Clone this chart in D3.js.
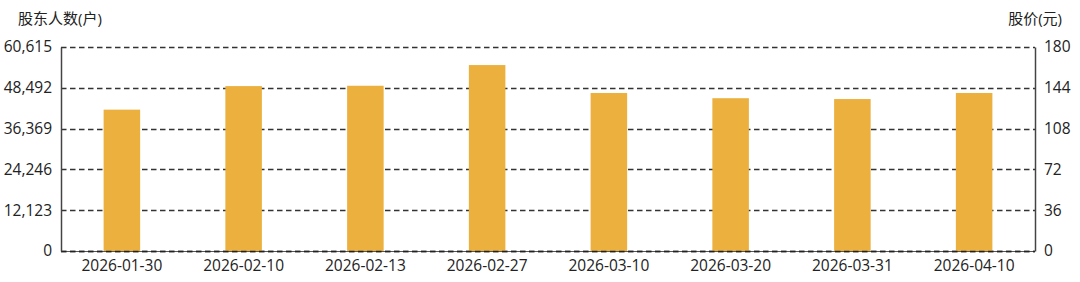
<!DOCTYPE html>
<html>
<head>
<meta charset="utf-8">
<script src="https://cdn.jsdelivr.net/npm/d3@7"></script>
<style>
  body { margin: 0; background: #fff; overflow: hidden; }
  svg { display: block; }
  svg text { font-family: "Open Sans", "Noto Sans CJK SC", sans-serif; font-size: 15.5px; fill: #222; }
</style>
</head>
<body>
<svg width="1080" height="282"></svg>
<script>
const dates = ['2026-01-30', '2026-02-10', '2026-02-13', '2026-02-27', '2026-03-10', '2026-03-20', '2026-03-31', '2026-04-10'];
const holders = [42000, 49000, 49100, 55250, 46950, 45400, 45150, 46950];
const leftTicks = [0, 12123, 24246, 36369, 48492, 60615];
const rightTicks = [0, 36, 72, 108, 144, 180];

const svg = d3.select('svg');
const margin = { top: 47, right: 45, bottom: 31, left: 61 };
const width = +svg.attr('width');
const height = +svg.attr('height');
const innerWidth = width - margin.left - margin.right;
const innerHeight = height - margin.top - margin.bottom;

const xScale = d3.scaleBand().domain(dates).range([0, innerWidth]).padding(0);
const yScale = d3.scaleLinear().domain([0, 60615]).range([innerHeight, 0]);
const y2Scale = d3.scaleLinear().domain([0, 180]).range([innerHeight, 0]);

const g = svg.append('g').attr('transform', `translate(${margin.left},${margin.top})`);

// dashed grid
g.selectAll('.grid')
	.data(leftTicks)
	.enter()
	.append('line')
	.attr('class', 'grid')
	.attr('x1', 0)
	.attr('x2', innerWidth)
	.attr('y1', d => Math.round(yScale(d)) + 0.5)
	.attr('y2', d => Math.round(yScale(d)) + 0.5)
	.attr('stroke', '#333')
	.attr('stroke-width', 1.4)
	.attr('stroke-dasharray', '5.5,3.5');

// bars
const barW = xScale.bandwidth() * 0.3;
g.selectAll('.bar')
	.data(holders)
	.enter()
	.append('rect')
	.attr('class', 'bar')
	.attr('x', (d, i) => xScale(dates[i]) + xScale.bandwidth() / 2 - barW / 2)
	.attr('y', d => yScale(d))
	.attr('width', barW)
	.attr('height', d => innerHeight - yScale(d))
	.attr('fill', '#ecb03e');

// baseline: solid line under the dashes
g.append('line')
	.attr('x1', 0)
	.attr('x2', innerWidth)
	.attr('y1', innerHeight + 0.5)
	.attr('y2', innerHeight + 0.5)
	.attr('stroke', '#555')
	.attr('stroke-width', 1);
g.append('line')
	.attr('x1', 0)
	.attr('x2', innerWidth)
	.attr('y1', innerHeight + 0.5)
	.attr('y2', innerHeight + 0.5)
	.attr('stroke', '#222')
	.attr('stroke-width', 1.4)
	.attr('stroke-dasharray', '5.5,3.5');

// left axis
const yAxis = d3.axisLeft(yScale).tickValues(leftTicks).tickSize(0).tickPadding(9).tickFormat(d3.format(','));
const yAxisG = g.append('g').call(yAxis);
yAxisG.select('.domain').attr('stroke', '#444').attr('stroke-width', 1.5);

// right axis
const y2Axis = d3.axisRight(y2Scale).tickValues(rightTicks).tickSize(0).tickPadding(9);
const y2AxisG = g.append('g').attr('transform', `translate(${innerWidth},0)`).call(y2Axis);
y2AxisG.select('.domain').attr('stroke', '#444').attr('stroke-width', 1.5);

// x axis
const xAxis = d3.axisBottom(xScale).tickSize(0).tickPadding(9);
const xAxisG = g.append('g').attr('transform', `translate(0,${innerHeight})`).call(xAxis);
xAxisG.select('.domain').remove();

// axis titles
svg.append('text').attr('x', 18).attr('y', 24).text('股东人数(户)').style('font-size', '15px');
svg.append('text').attr('x', 1062).attr('y', 24).attr('text-anchor', 'end').text('股价(元)').style('font-size', '15px');

// drop the font attributes d3 axes set so the stylesheet applies
svg.selectAll('g').attr('font-family', null).attr('font-size', null);
</script>
</body>
</html>
